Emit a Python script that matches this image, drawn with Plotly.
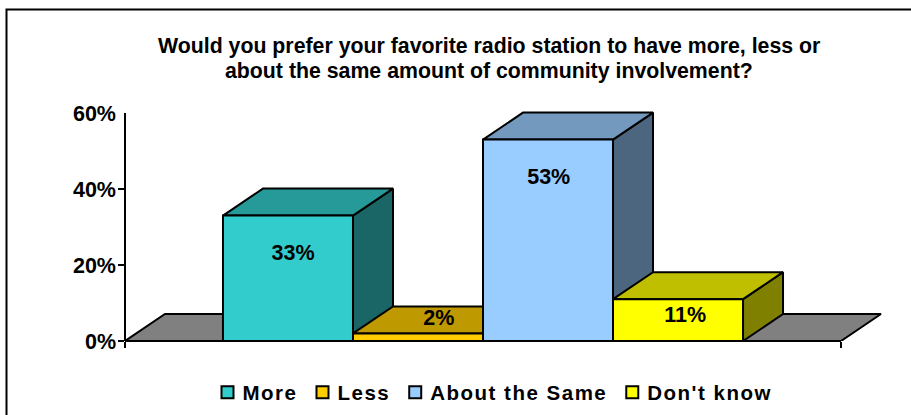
import plotly.graph_objects as go

CATEGORIES = ["More", "Less", "About the Same", "Don't know"]
VALUES = [33, 2, 53, 11]
FRONT_COLORS = ["#33CCCC", "#FFCC00", "#99CCFF", "#FFFF00"]
TOP_COLORS = ["#269999", "#BF9900", "#7399BF", "#BFBF00"]
SIDE_COLORS = ["#1A6666", "#806600", "#4C6680", "#808000"]
FLOOR_COLOR = "#808080"
Y_TICKS = [0, 20, 40, 60]
Y_TICK_LABELS = ["0%", "20%", "40%", "60%"]
TICKED_VALUES = [0, 20, 40]
TITLE_LINES = [
    "Would you prefer your favorite radio station to have more, less or",
    "about the same amount of community involvement?",
]

# Chart layout in pixels; the plot area leaves room for the oblique depth
W, H = 911, 415
L, R, T, B = 125, 20, 100, 74
PLOT_W = W - L - R
PLOT_H = H - T - B
X_UNIT_PX = 716    # pixels per category slot
Y_UNIT_PX = 3.8    # pixels per percentage point
X_MAX = PLOT_W / X_UNIT_PX
Y_MAX = PLOT_H / Y_UNIT_PX
BAR_GAP = 0.2737
DEPTH_X = 40 / X_UNIT_PX
DEPTH_Y = 27 / Y_UNIT_PX
BAR_W = (1 - BAR_GAP) / len(VALUES)
LEFT = [0.5 - (1 - BAR_GAP) / 2 + i * BAR_W for i in range(len(VALUES))]
# Where each value label sits relative to its bar
LABEL_DX = [0.007, 0.029, 0.001, 0.010]
LABEL_DY = [-10.4, 3.5, -10.3, -4.6]

FONT = "Liberation Sans, Arial, sans-serif"
OUTLINE = dict(color="#000000", width=2)


def polygon(xs, ys, color):
    return go.Scatter(
        x=xs + xs[:1], y=ys + ys[:1], mode="lines", fill="toself",
        fillcolor=color, line=OUTLINE, showlegend=False, hoverinfo="skip",
    )


fig = go.Figure()

# Floor of the oblique projection
fig.add_trace(polygon([0, DEPTH_X, 1 + DEPTH_X, 1], [0, DEPTH_Y, DEPTH_Y, 0], FLOOR_COLOR))

# Side and top faces, back to front
for x0, v, top, side in zip(LEFT, VALUES, TOP_COLORS, SIDE_COLORS):
    x1 = x0 + BAR_W
    fig.add_trace(polygon([x1, x1 + DEPTH_X, x1 + DEPTH_X, x1],
                          [0, DEPTH_Y, v + DEPTH_Y, v], side))
    fig.add_trace(polygon([x0, x1, x1 + DEPTH_X, x0 + DEPTH_X],
                          [v, v, v + DEPTH_Y, v + DEPTH_Y], top))

# Front faces on an overlaid subplot so they cover the depth faces
for name, v, color in zip(CATEGORIES, VALUES, FRONT_COLORS):
    fig.add_trace(go.Bar(
        x=[0.5], y=[v], name=name, marker=dict(color=color, line=OUTLINE),
        xaxis="x2", yaxis="y2", hoverinfo="skip",
    ))

fig.add_trace(go.Scatter(
    x=[x0 + BAR_W / 2 + dx for x0, dx in zip(LEFT, LABEL_DX)],
    y=[v + dy for v, dy in zip(VALUES, LABEL_DY)],
    text=[f"{v}%" for v in VALUES],
    mode="text", textfont=dict(family=FONT, size=21.5, color="#000000", weight="bold"),
    showlegend=False, hoverinfo="skip", cliponaxis=False, xaxis="x2", yaxis="y2",
))

fig.update_layout(
    width=W, height=H,
    margin=dict(l=L, r=R, t=T, b=B, autoexpand=False),
    paper_bgcolor="#FFFFFF", plot_bgcolor="rgba(0,0,0,0)",
    barmode="group", bargap=BAR_GAP, bargroupgap=0,
    showlegend=True,
    legend=dict(
        orientation="h", x=(492.5 - L) / PLOT_W, xanchor="center", xref="paper",
        y=(H - B - 392.5) / PLOT_H, yanchor="middle", traceorder="normal", indentation=-5,
        font=dict(family=FONT, size=20.5, color="#000000", weight="bold"),
    ),
    xaxis=dict(range=[0, X_MAX], tickvals=[0, 1], showticklabels=False, ticks="outside",
               ticklen=6, tickwidth=2, tickcolor="#000000", showgrid=False,
               zeroline=False, showline=False),
    yaxis=dict(range=[0, Y_MAX], tickvals=Y_TICKS, ticktext=Y_TICK_LABELS, ticks="",
               tickfont=dict(family=FONT, size=21.5, color="#000000", weight="bold"),
               showgrid=False, zeroline=False, ticklabelstandoff=8, showline=False),
    xaxis2=dict(range=[0, X_MAX], overlaying="x", visible=False),
    yaxis2=dict(range=[0, Y_MAX], overlaying="y", side="left", tickvals=TICKED_VALUES,
                showticklabels=False, ticks="outside", ticklen=6, tickwidth=2,
                tickcolor="#000000", showgrid=False, zeroline=False, showline=False),
    annotations=[
        dict(text=line, xref="paper", yref="paper", x=(489 - L) / PLOT_W, xanchor="center",
             y=(H - B - py) / PLOT_H, yanchor="middle", showarrow=False,
             font=dict(family=FONT, size=21.3, color="#000000", weight="bold"))
        for line, py in zip(TITLE_LINES, [46, 71])
    ],
    shapes=[
        # Outer frame of the chart; its right and bottom edges run off the page
        dict(type="rect", xref="paper", yref="paper",
             x0=(6.5 - L) / PLOT_W, x1=(930 - L) / PLOT_W,
             y0=(H - B - 430) / PLOT_H, y1=(H - B - 9.5) / PLOT_H,
             line=dict(color="#000000", width=2), fillcolor="rgba(0,0,0,0)", layer="below"),
        # Axis lines stop at the ends of the value and category ranges;
        # paper references keep their full width at the plot edge
        dict(type="line", xref="paper", yref="paper", x0=0, x1=0,
             y0=0, y1=Y_TICKS[-1] / Y_MAX, line=OUTLINE, layer="above"),
        dict(type="line", xref="paper", yref="paper", x0=0, x1=1 / X_MAX,
             y0=0, y1=0, line=OUTLINE, layer="above"),
    ],
)

# Widen the legend lettering and have Plotly measure it again, then nudge the swatches
POST = """
var gd = document.getElementById('{plot_id}');
var s = document.createElement('style');
s.textContent = '.legendtext{letter-spacing:1.5px}';
document.head.appendChild(s);
Plotly.relayout(gd, {'legend.font.size': 20.51}).then(function () {
  gd.querySelectorAll('.legend .legendsymbols').forEach(function (g) {
    g.setAttribute('transform', 'translate(5,0)');
  });
});
"""
fig.write_html("out.html", post_script=POST)
